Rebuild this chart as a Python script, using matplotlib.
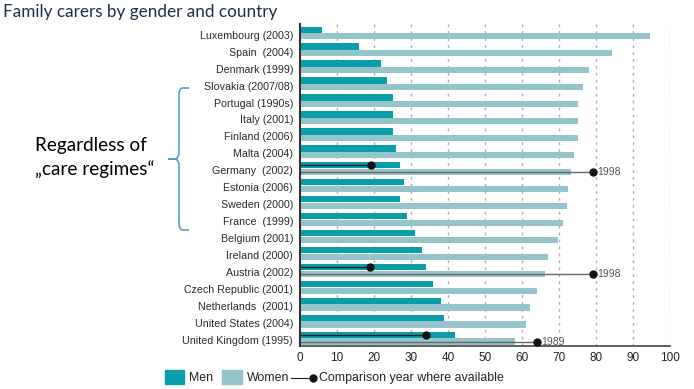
import matplotlib.pyplot as plt
from matplotlib.patches import Rectangle, PathPatch
from matplotlib.path import Path

# Data (share of family carers, %)
countries = ['Luxembourg (2003)', 'Spain  (2004)', 'Denmark (1999)', 'Slovakia (2007/08)',
             'Portugal (1990s)', 'Italy (2001)', 'Finland (2006)', 'Malta (2004)',
             'Germany  (2002)', 'Estonia (2006)', 'Sweden (2000)', 'France  (1999)',
             'Belgium (2001)', 'Ireland (2000)', 'Austria (2002)', 'Czech Republic (2001)',
             'Netherlands  (2001)', 'United States (2004)', 'United Kingdom (1995)']
men = [6, 16, 22, 23.5, 25, 25, 25, 26, 27, 28, 27, 29, 31, 33, 34, 36, 38, 39, 42]
women = [94.5, 84.2, 78.2, 76.6, 75.2, 75.2, 75.2, 74.1, 73.2, 72.4, 72.2, 71.1,
         69.6, 67.1, 66.1, 64.1, 62.2, 61.2, 58.2]
# comparison year values: country -> (men, women, year)
comparison = {'Germany  (2002)': (19.1, 79.1, '1998'),
              'Austria (2002)': (19.0, 79.1, '1998'),
              'United Kingdom (1995)': (34.0, 64.0, '1989')}

men_color = '#0a9eaa'
women_color = '#95c5cb'
narrow = 'Liberation Sans'

W, H = 694, 389
fig = plt.figure(figsize=(W / 100, H / 100), dpi=100)

# main chart axes
ax = fig.add_axes([300 / W, 1 - 346 / H, 370 / W, 322 / H])
rows = list(range(len(countries)))
off, bh = 0.195, 0.37
ax.barh([r - off for r in rows], men, height=bh, color=men_color, zorder=2)
ax.barh([r + off for r in rows], women, height=bh, color=women_color, zorder=2)

for name, (m, w, yr) in comparison.items():
    r = countries.index(name)
    ax.plot([0, m], [r - off, r - off], color='#222222', lw=1, zorder=3)
    ax.plot([m], [r - off], 'o', color='#111111', ms=5, zorder=4)
    ax.plot([0, w], [r + off, r + off], color='#666666', lw=1, zorder=3)
    ax.plot([w], [r + off], 'o', color='#111111', ms=5, zorder=4)
    ax.text(w + 1.3, r + off, yr, va='center', ha='left', fontsize=7.5,
            color='#555555', family=narrow)

ax.set_xlim(0, 100)
ax.set_ylim(18.46, -0.53)
ax.set_xticks(range(0, 101, 10))
ax.set_yticks([r + 0.1 for r in rows])
ax.set_yticklabels(countries, family=narrow, fontsize=7.7, color='#2a2a2a')
for lab in ax.get_xticklabels():
    lab.set_family(narrow)
ax.tick_params(axis='x', length=0, pad=4, labelsize=8.5, labelcolor='#222222')
ax.tick_params(axis='y', length=0, pad=5)
ax.grid(axis='x', color='#b0b0b0', lw=1, ls=(0, (2, 3)), zorder=1)
for s in ['top', 'right']:
    ax.spines[s].set_visible(False)
ax.spines['left'].set_color('#333333')
ax.spines['left'].set_linewidth(1.5)
ax.spines['bottom'].set_color('#444444')
ax.spines['bottom'].set_linewidth(1.2)
ax.spines['left'].set_zorder(5)

# overlay for annotations, in pixel coordinates
ov = fig.add_axes([0, 0, 1, 1])
ov.set_xlim(0, W)
ov.set_ylim(H, 0)
ov.axis('off')

ov.text(3, 12, 'Family carers by gender and country', fontsize=12.3,
        color='#1f2d4a', family='Lato', va='center', ha='left')
ov.text(35, 145, 'Regardless of', fontsize=13.6, family='Lato', va='center', ha='left')
ov.text(35, 169, '\u201ecare regimes\u201c', fontsize=13.6, family='Lato', va='center', ha='left')

# bracket
verts = [(189, 88), (182, 88), (179, 89), (179, 95),
         (179, 153), (179, 157), (176, 159), (168, 159),
         (176, 159), (179, 161), (179, 165),
         (179, 223), (179, 229), (182, 230), (189, 230)]
codes = [Path.MOVETO, Path.LINETO, Path.CURVE3, Path.CURVE3,
         Path.LINETO, Path.CURVE3, Path.CURVE3, Path.LINETO,
         Path.LINETO, Path.CURVE3, Path.CURVE3,
         Path.LINETO, Path.CURVE3, Path.CURVE3, Path.LINETO]
ov.add_patch(PathPatch(Path(verts, codes), fill=False, edgecolor='#5b9bd5', lw=1.2))

# legend
ov.add_patch(Rectangle((165, 370), 19, 14, color=men_color))
ov.text(189, 378, 'Men', fontsize=8.9, family=narrow, va='center', color='#222222')
ov.add_patch(Rectangle((222, 370), 20, 14, color=women_color))
ov.text(247, 378, 'Women', fontsize=8.9, family=narrow, va='center', color='#222222')
ov.plot([291, 313], [378, 378], color='#222222', lw=0.8)
ov.plot([313], [378], 'o', color='#111111', ms=5)
ov.text(319, 378, 'Comparison year where available', fontsize=8.9, family=narrow,
        va='center', color='#222222')

fig.savefig('out.png', dpi=100)
